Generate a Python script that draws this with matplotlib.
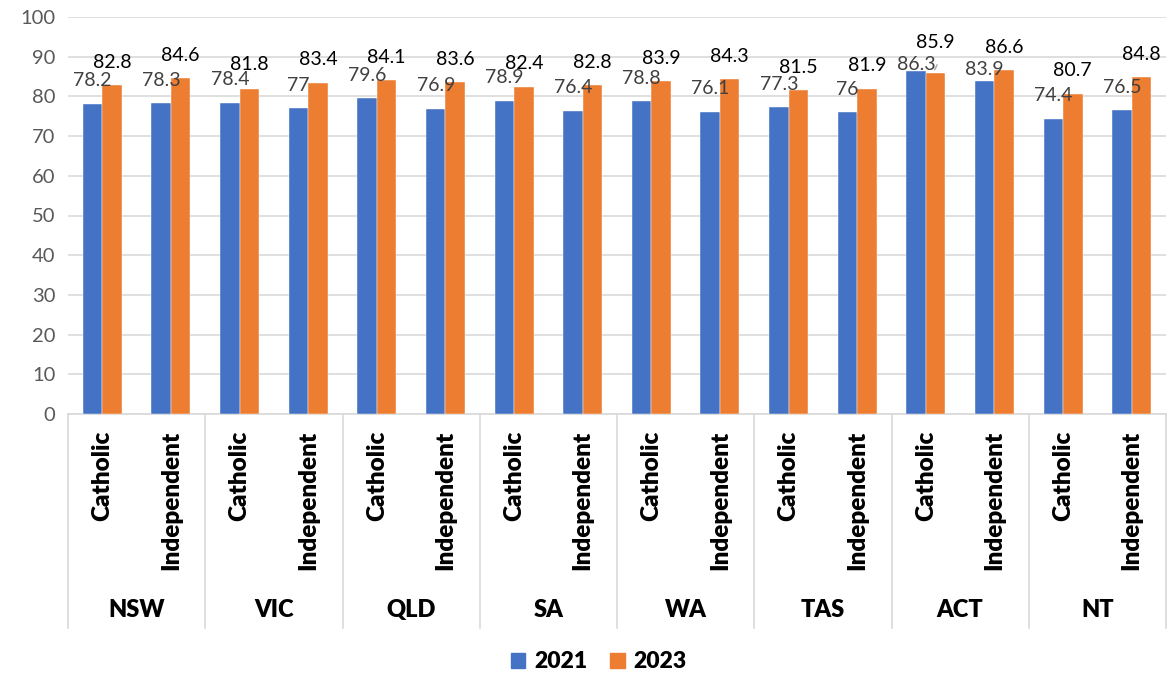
import matplotlib
matplotlib.use("Agg")
import matplotlib.pyplot as plt
import matplotlib.transforms as mtransforms
from matplotlib.patches import Patch
import numpy as np

plt.rcParams['font.family'] = ['Lato', 'DejaVu Sans']

states = ["NSW", "VIC", "QLD", "SA", "WA", "TAS", "ACT", "NT"]
sectors = ["Catholic", "Independent"]
values_2021 = [78.2, 78.3, 78.4, 77, 79.6, 76.9, 78.9, 76.4,
               78.8, 76.1, 77.3, 76, 86.3, 83.9, 74.4, 76.5]
values_2023 = [82.8, 84.6, 81.8, 83.4, 84.1, 83.6, 82.4, 82.8,
               83.9, 84.3, 81.5, 81.9, 85.9, 86.6, 80.7, 84.8]
series_names = ["2021", "2023"]
yticks = [0, 10, 20, 30, 40, 50, 60, 70, 80, 90, 100]

blue = "#4472C4"
orange = "#ED7D31"
grid_c = "#D9D9D9"

fig = plt.figure(figsize=(11.72, 6.77), dpi=100)
ax = fig.add_axes([68/1172, 1-414/677, (1166-68)/1172, (414-17)/677])

n = len(values_2021)
x = np.arange(n)
w = 0.284
ax.bar(x - w/2, values_2021, w, color=blue, edgecolor="white", linewidth=0.3, zorder=3)
ax.bar(x + w/2, values_2023, w, color=orange, edgecolor="white", linewidth=0.3, zorder=3)

# label offsets (points) above bar tops; a few shifted to avoid overlap, as in the original
off_blue = [16.5] * n
off_orange = [16.5] * n
off_blue[12] = 5
off_blue[13] = 8
off_orange[12] = 22
off_orange[2] = 17.5

for i, (xi, v) in enumerate(zip(x, values_2021)):
    ax.annotate(f"{v:g}", (xi - w/2, v), xytext=(0, off_blue[i]), textcoords="offset points",
                ha="center", va="center", fontsize=14, color="#404040", zorder=5)
for i, (xi, v) in enumerate(zip(x, values_2023)):
    ax.annotate(f"{v:g}", (xi + w/2, v), xytext=(0, off_orange[i]), textcoords="offset points",
                ha="center", va="center", fontsize=14, color="black", zorder=5)

# leader line for the displaced ACT Catholic 2023 label
ax.annotate("", xy=(x[12] + w/2 - 0.03, values_2023[12] + 0.2),
            xytext=(x[12] + w/2 + 0.04, values_2023[12] + 2.7),
            arrowprops=dict(arrowstyle="-", color="#A6A6A6", lw=1), zorder=5)

ax.set_xlim(-0.5, n - 0.5)
ax.set_ylim(0, 100)
ax.set_yticks(yticks)
ax.tick_params(axis="y", length=0, labelsize=14.5, labelcolor="#595959", pad=9)
ax.tick_params(axis="x", length=0, labelbottom=False)
ax.yaxis.grid(True, color=grid_c, linewidth=1.2, zorder=0)
ax.set_axisbelow(True)
for s in ["top", "right", "left"]:
    ax.spines[s].set_visible(False)
ax.spines["bottom"].set_color(grid_c)
ax.spines["bottom"].set_linewidth(1.2)

trans = mtransforms.blended_transform_factory(ax.transData, ax.transAxes)
sep_bottom = -(628 - 414) / 397
for k in range(len(states) + 1):
    xs = -0.5 + 2 * k
    ax.plot([xs, xs], [0, sep_bottom], transform=trans, color=grid_c,
            linewidth=1.2, clip_on=False)

for i in range(n):
    ax.text(i, -(431 - 414) / 397, sectors[i % 2], transform=trans, rotation=90,
            ha="center", va="top", fontsize=17.5, fontweight="heavy", color="black")
for k, st in enumerate(states):
    ax.text(2 * k + 0.5, -(610 - 414) / 397, st, transform=trans,
            ha="center", va="center", fontsize=17, fontweight="heavy", color="black")

handles = [Patch(color=blue), Patch(color=orange)]
fig.legend(handles, series_names, loc="center", bbox_to_anchor=(599/1172, 1 - 662/677),
           ncol=2, frameon=False, prop={"size": 16.5, "weight": "heavy"},
           handlelength=0.62, handleheight=0.62, columnspacing=1.0, handletextpad=0.4)

fig.savefig("out.png", dpi=100)
